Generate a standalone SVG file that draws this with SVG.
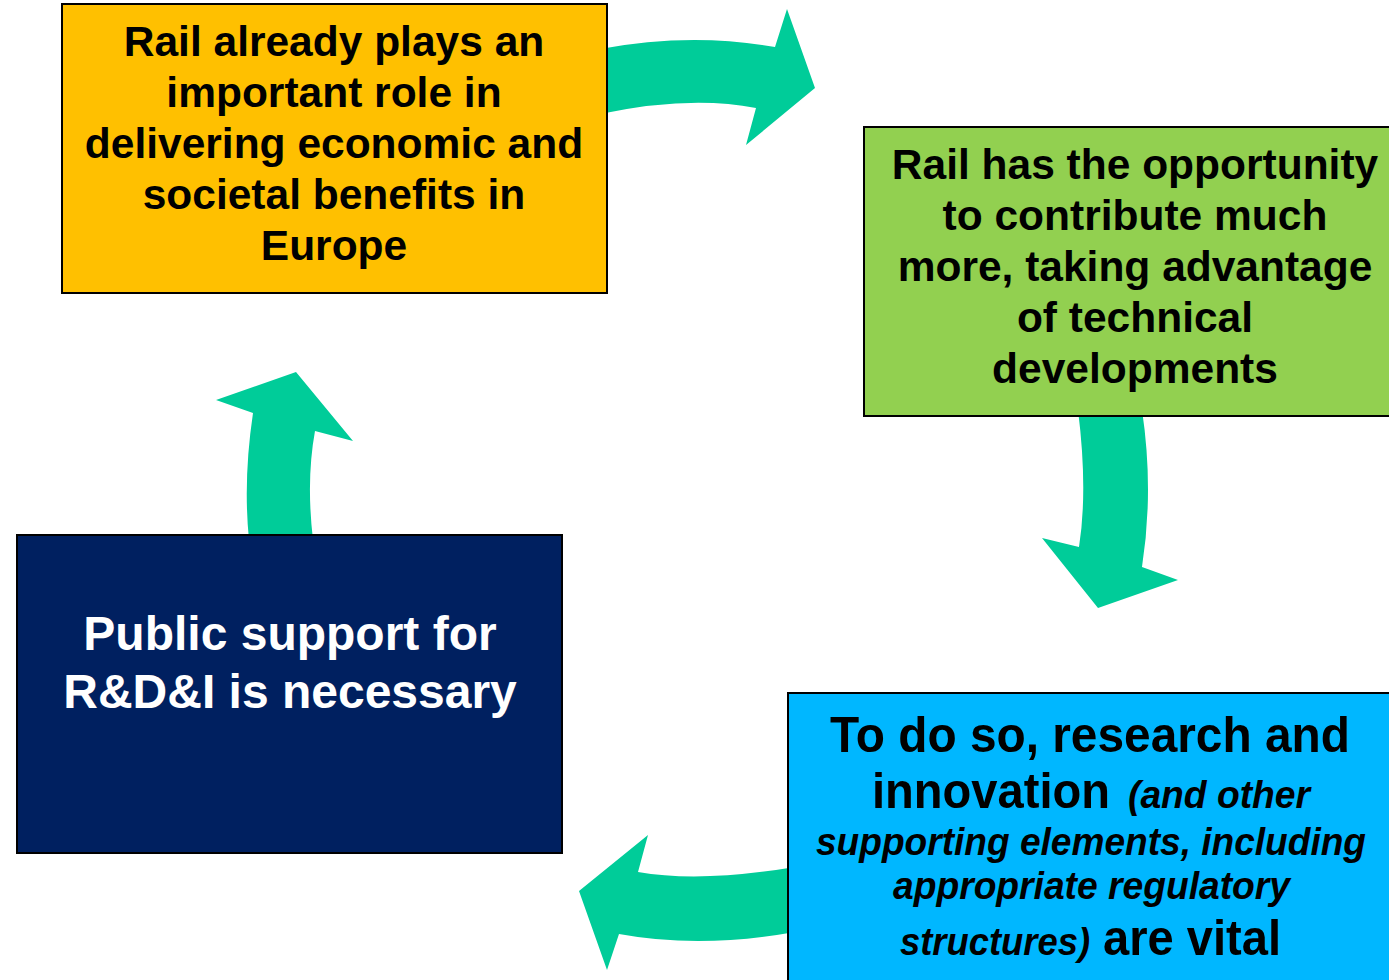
<svg xmlns="http://www.w3.org/2000/svg" width="1389" height="980" viewBox="0 0 1389 980">
<style>
.arrow{fill:#00CC99;stroke:none}
.box{stroke:#000;stroke-width:2}
.t{font-family:"Liberation Sans",Arial,sans-serif;font-weight:bold;text-anchor:middle}
.b42{font-size:42.5px;fill:#000}
.w48{font-size:48px;fill:#fff}
.s{font-family:"Liberation Sans",Arial,sans-serif;font-weight:bold;fill:#000}
.it{font-style:italic}
</style>
<rect width="1389" height="980" fill="#fff"/>
<g id="connectors">
<path class="arrow" d="M600,49 Q690,32 775,47 L787,9 L815,88 L746,145 L756,108 Q690,95 600,114 Z"/>
<path class="arrow" d="M1078,410 Q1088,490 1079,547 L1042,538 L1098,608 L1178,580 L1142,567 Q1154,490 1142,410 Z"/>
<path class="arrow" d="M795,867 Q700,883 638,872 L648,835 L579,891 L607,970 L619,934 Q700,949 795,932 Z"/>
<path class="arrow" d="M249,540 Q243,480 253,413 L216,400 L296,372 L353,441 L315,431 Q306,480 313,540 Z"/>
</g>
<g id="node1">
<rect class="box" x="62" y="4" width="545" height="289" fill="#FFC000"/>
<text class="t b42" x="334" y="56">Rail already plays an</text>
<text class="t b42" x="334" y="107">important role in</text>
<text class="t b42" x="334" y="158">delivering economic and</text>
<text class="t b42" x="334" y="209">societal benefits in</text>
<text class="t b42" x="334" y="260">Europe</text>
</g>
<g id="node2">
<rect class="box" x="864" y="127" width="540" height="289" fill="#92D050"/>
<text class="t b42" x="1135" y="179">Rail has the opportunity</text>
<text class="t b42" x="1135" y="230">to contribute much</text>
<text class="t b42" x="1135" y="281">more, taking advantage</text>
<text class="t b42" x="1135" y="332">of technical</text>
<text class="t b42" x="1135" y="383">developments</text>
</g>
<g id="node3">
<rect class="box" x="788" y="693" width="620" height="300" fill="#00B7FF"/>
<text class="s" x="830" y="752" font-size="50" textLength="520" lengthAdjust="spacingAndGlyphs">To do so, research and</text>
<text class="s" x="872" y="808" font-size="50" textLength="238" lengthAdjust="spacingAndGlyphs">innovation</text>
<text class="s it" x="1128" y="808" font-size="38" textLength="182" lengthAdjust="spacingAndGlyphs">(and other</text>
<text class="s it" x="816" y="855" font-size="38" textLength="550" lengthAdjust="spacingAndGlyphs">supporting elements, including</text>
<text class="s it" x="893" y="899" font-size="38" textLength="397" lengthAdjust="spacingAndGlyphs">appropriate regulatory</text>
<text class="s it" x="900" y="955" font-size="38" textLength="190" lengthAdjust="spacingAndGlyphs">structures)</text>
<text class="s" x="1103" y="955" font-size="50" textLength="178" lengthAdjust="spacingAndGlyphs">are vital</text>
</g>
<g id="node4">
<rect class="box" x="17" y="535" width="545" height="318" fill="#002060"/>
<text class="t w48" x="290" y="650">Public support for</text>
<text class="t w48" x="290" y="708">R&amp;D&amp;I is necessary</text>
</g>
</svg>
